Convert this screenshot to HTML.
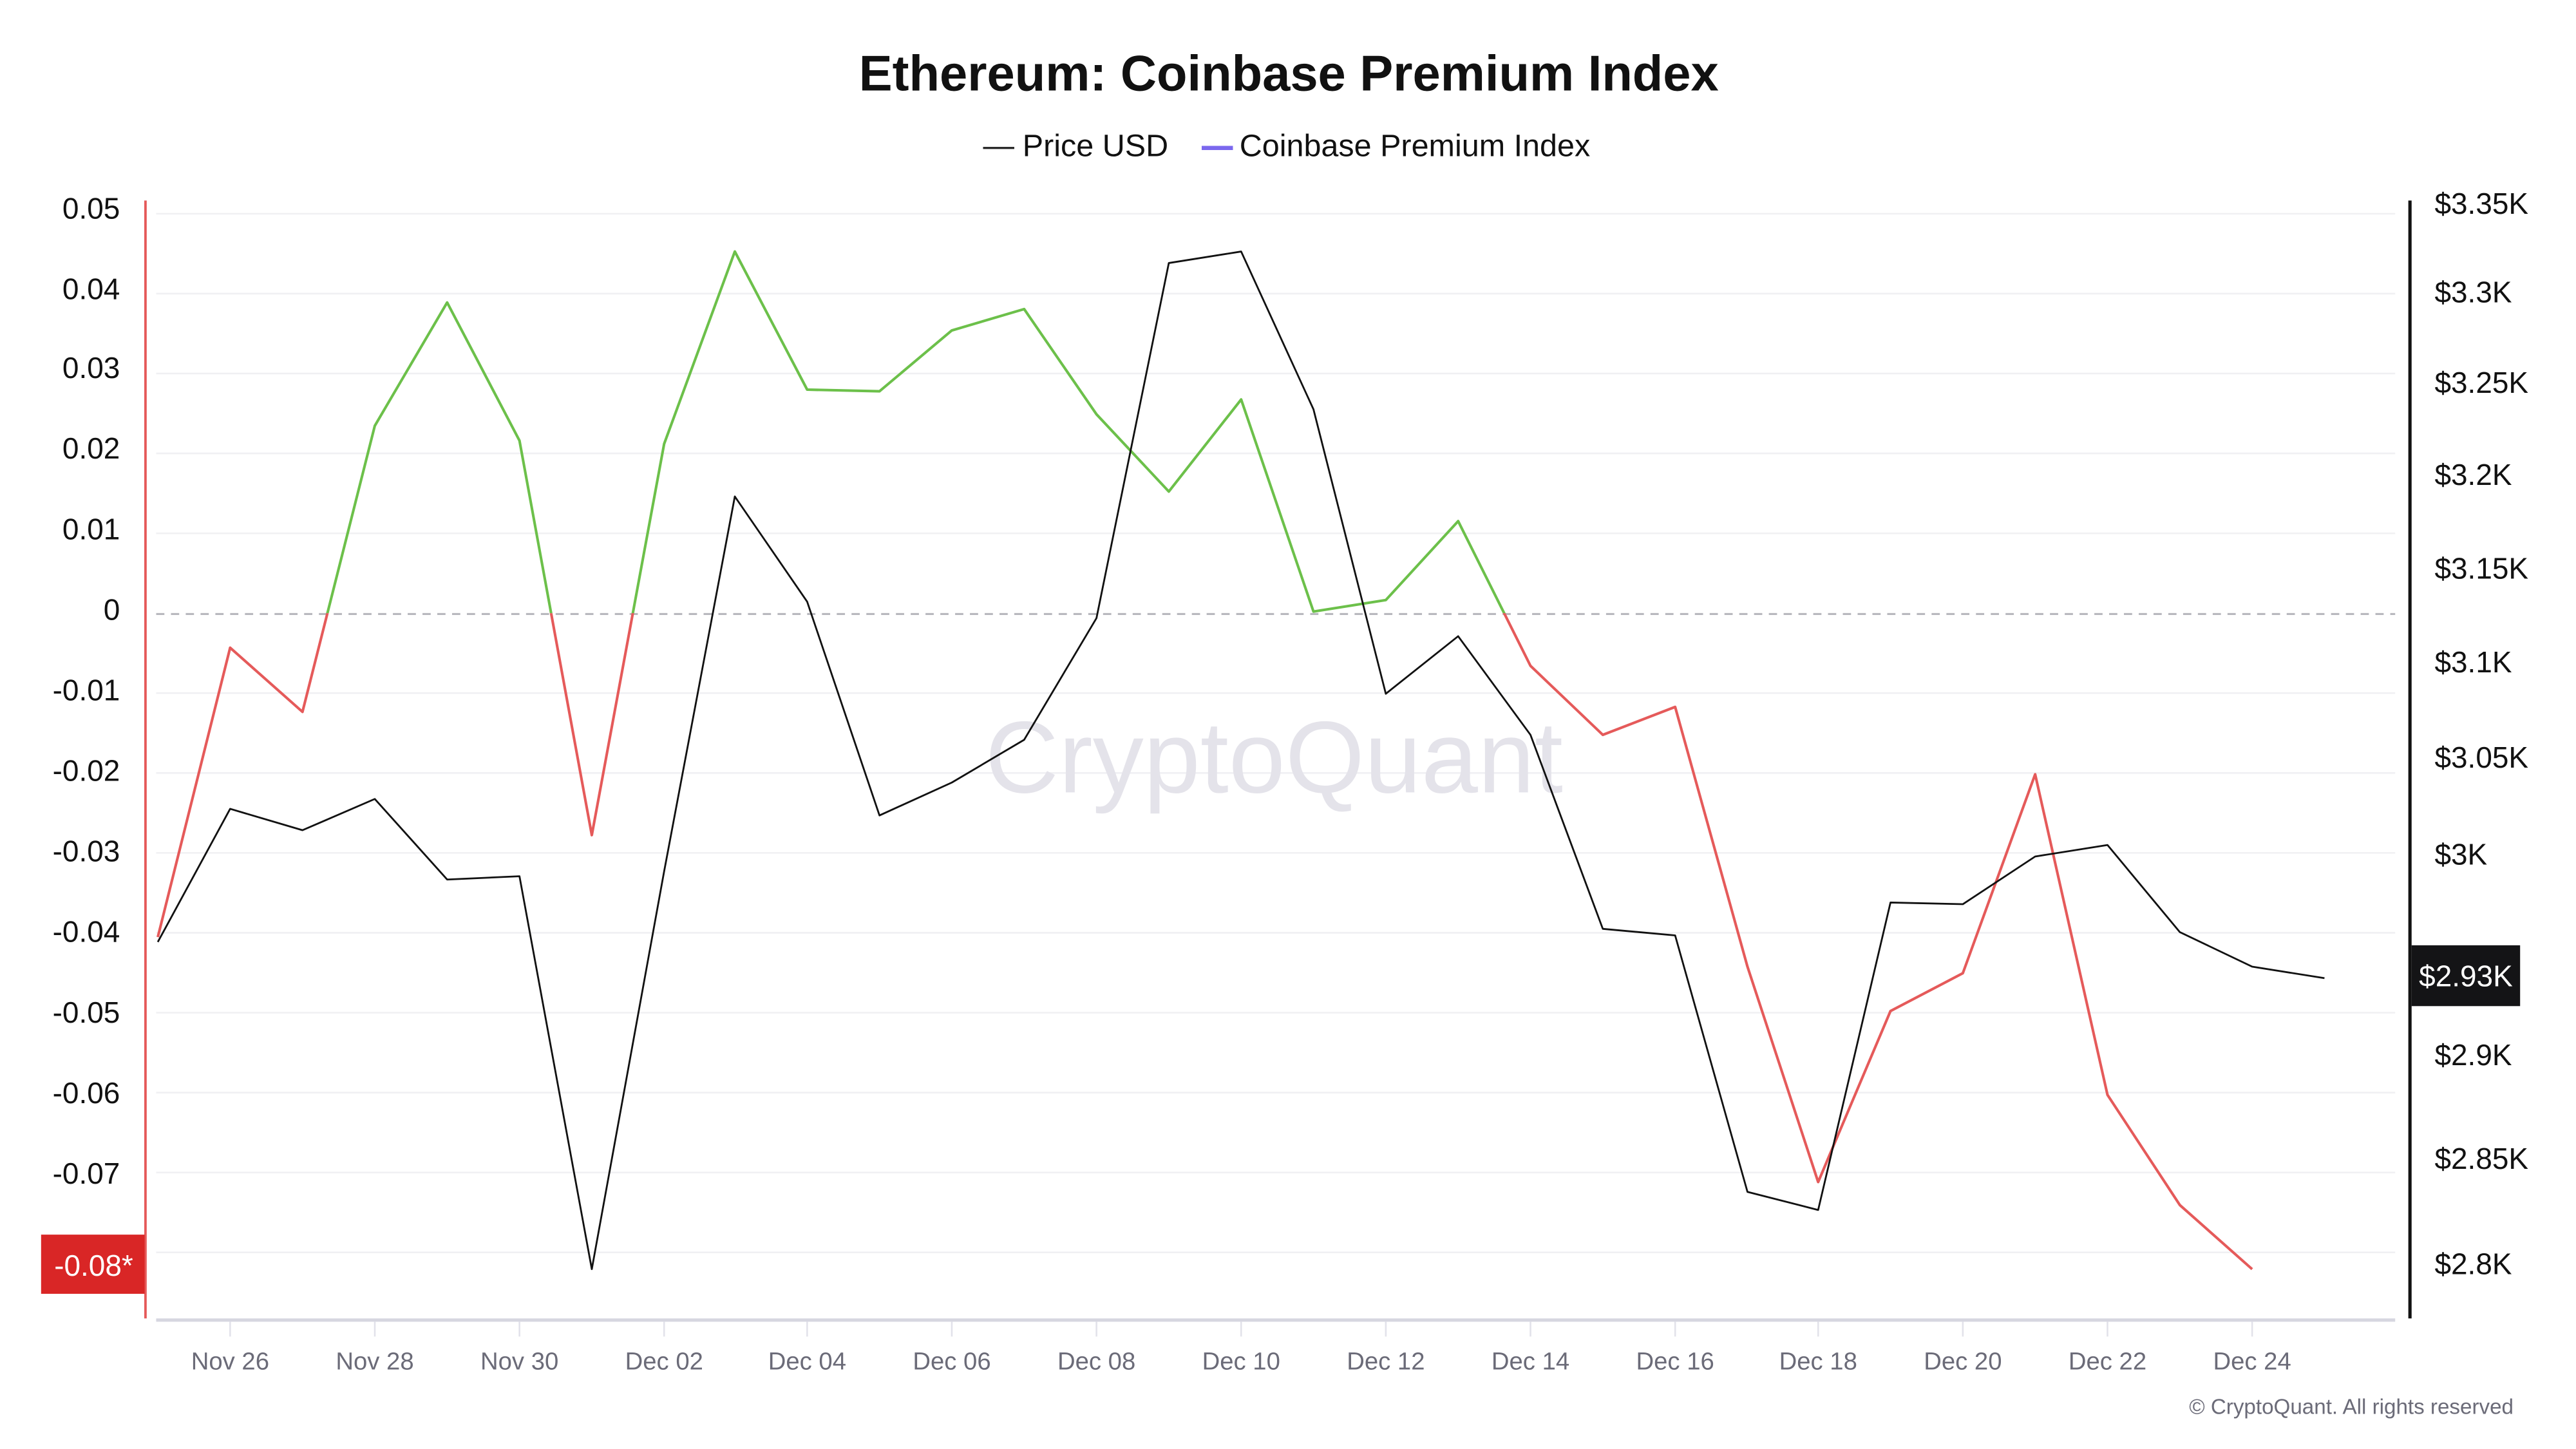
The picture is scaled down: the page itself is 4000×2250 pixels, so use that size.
<!DOCTYPE html>
<html><head><meta charset="utf-8"><style>
html,body{margin:0;padding:0;background:#fff;width:4000px;height:2250px;overflow:hidden}
svg{display:block}
text{font-family:"Liberation Sans","DejaVu Sans",sans-serif}
</style></head><body>
<svg width="4000" height="2250" viewBox="0 0 1567 881.4" preserveAspectRatio="none" xmlns="http://www.w3.org/2000/svg">
<defs>
<clipPath id="above"><rect x="0" y="0" width="1567" height="373"/></clipPath>
<clipPath id="below"><rect x="0" y="373" width="1567" height="600"/></clipPath>
</defs>
<rect width="1567" height="881.4" fill="#fff"/>
<text x="784" y="55" text-anchor="middle" font-size="30.5" font-weight="bold" fill="#111" textLength="523" lengthAdjust="spacingAndGlyphs">Ethereum: Coinbase Premium Index</text>
<line x1="598" y1="90" x2="617" y2="90" stroke="#222" stroke-width="1.3"/>
<text x="622" y="95" font-size="19" fill="#111">Price USD</text>
<line x1="731" y1="90" x2="750" y2="90" stroke="#7b68ee" stroke-width="2.5"/>
<text x="754" y="95" font-size="19" fill="#111">Coinbase Premium Index</text>
<g stroke="#f0f0f3" stroke-width="1">
<line x1="95" x2="1457" y1="130" y2="130"/><line x1="95" x2="1457" y1="178.6" y2="178.6"/>
<line x1="95" x2="1457" y1="227.2" y2="227.2"/><line x1="95" x2="1457" y1="275.8" y2="275.8"/>
<line x1="95" x2="1457" y1="324.4" y2="324.4"/><line x1="95" x2="1457" y1="421.6" y2="421.6"/>
<line x1="95" x2="1457" y1="470.2" y2="470.2"/><line x1="95" x2="1457" y1="518.8" y2="518.8"/>
<line x1="95" x2="1457" y1="567.4" y2="567.4"/><line x1="95" x2="1457" y1="616" y2="616"/>
<line x1="95" x2="1457" y1="664.6" y2="664.6"/><line x1="95" x2="1457" y1="713.2" y2="713.2"/>
<line x1="95" x2="1457" y1="761.8" y2="761.8"/>
</g>
<line x1="95" x2="1457" y1="373.5" y2="373.5" stroke="#b8b8be" stroke-width="1.2" stroke-dasharray="5,4"/>
<line x1="95" x2="1457" y1="803" y2="803" stroke="#d6d6e0" stroke-width="2"/>
<g stroke="#e2e2ea" stroke-width="1">
<line x1="140" x2="140" y1="804" y2="813"/><line x1="228" x2="228" y1="804" y2="813"/><line x1="316" x2="316" y1="804" y2="813"/><line x1="404" x2="404" y1="804" y2="813"/><line x1="491" x2="491" y1="804" y2="813"/><line x1="579" x2="579" y1="804" y2="813"/><line x1="667" x2="667" y1="804" y2="813"/><line x1="755" x2="755" y1="804" y2="813"/><line x1="843" x2="843" y1="804" y2="813"/><line x1="931" x2="931" y1="804" y2="813"/><line x1="1019" x2="1019" y1="804" y2="813"/><line x1="1106" x2="1106" y1="804" y2="813"/><line x1="1194" x2="1194" y1="804" y2="813"/><line x1="1282" x2="1282" y1="804" y2="813"/><line x1="1370" x2="1370" y1="804" y2="813"/>
</g>
<g font-size="15" fill="#6b6b78" text-anchor="middle">
<text x="140" y="833">Nov 26</text><text x="228" y="833">Nov 28</text><text x="316" y="833">Nov 30</text><text x="404" y="833">Dec 02</text><text x="491" y="833">Dec 04</text><text x="579" y="833">Dec 06</text><text x="667" y="833">Dec 08</text><text x="755" y="833">Dec 10</text><text x="843" y="833">Dec 12</text><text x="931" y="833">Dec 14</text><text x="1019" y="833">Dec 16</text><text x="1106" y="833">Dec 18</text><text x="1194" y="833">Dec 20</text><text x="1282" y="833">Dec 22</text><text x="1370" y="833">Dec 24</text>
</g>
<text x="775" y="482" text-anchor="middle" font-size="62" fill="#e4e3ea">CryptoQuant</text>
<line x1="88.5" y1="122" x2="88.5" y2="802" stroke="#e55a5a" stroke-width="1.5"/>
<g font-size="18" fill="#111" text-anchor="end">
<text x="73" y="133">0.05</text><text x="73" y="182">0.04</text><text x="73" y="230">0.03</text><text x="73" y="279">0.02</text><text x="73" y="328">0.01</text><text x="73" y="377">0</text><text x="73" y="426">-0.01</text><text x="73" y="475">-0.02</text><text x="73" y="524">-0.03</text><text x="73" y="573">-0.04</text><text x="73" y="622">-0.05</text><text x="73" y="671">-0.06</text><text x="73" y="720">-0.07</text>
</g>
<rect x="25" y="751" width="63" height="36" fill="#d92626"/>
<text x="57" y="776" text-anchor="middle" font-size="18" fill="#fff">-0.08*</text>
<line x1="1466" y1="122" x2="1466" y2="802" stroke="#111" stroke-width="2"/>
<g font-size="18" fill="#111">
<text x="1481" y="130">$3.35K</text><text x="1481" y="184">$3.3K</text><text x="1481" y="239">$3.25K</text><text x="1481" y="295">$3.2K</text><text x="1481" y="352">$3.15K</text><text x="1481" y="409">$3.1K</text><text x="1481" y="467">$3.05K</text><text x="1481" y="526">$3K</text><text x="1481" y="648">$2.9K</text><text x="1481" y="711">$2.85K</text><text x="1481" y="775">$2.8K</text>
</g>
<rect x="1467" y="575" width="66" height="37" fill="#141416"/>
<text x="1500" y="600" text-anchor="middle" font-size="18" fill="#fff">$2.93K</text>
<g fill="none" stroke-width="1.6" stroke-linejoin="round">
<polyline clip-path="url(#above)" stroke="#6cc04a" points="96,570 140,394 184,433 228,259 272,184 316,268 360,508 404,270 447,153 491,237 535,238 579,201 623,188 667,252 711,299 755,243 799,372 843,365 887,317 931,405 975,447 1019,430 1063,588 1106,719 1150,615 1194,592 1238,471 1282,666 1326,733 1370,772"/>
<polyline clip-path="url(#below)" stroke="#e55a5a" points="96,570 140,394 184,433 228,259 272,184 316,268 360,508 404,270 447,153 491,237 535,238 579,201 623,188 667,252 711,299 755,243 799,372 843,365 887,317 931,405 975,447 1019,430 1063,588 1106,719 1150,615 1194,592 1238,471 1282,666 1326,733 1370,772"/>
</g>
<polyline fill="none" stroke="#111" stroke-width="1.1" stroke-linejoin="round" points="96,573 140,492 184,505 228,486 272,535 316,533 360,772 404,530 447,302 491,366 535,496 579,476 623,450 667,376 711,160 755,153 799,249 843,422 887,387 931,447 975,565 1019,569 1063,725 1106,736 1150,549 1194,550 1238,521 1282,514 1326,567 1370,588 1414,595"/>
<text x="1529" y="860" text-anchor="end" font-size="13" fill="#6b6b78">© CryptoQuant. All rights reserved</text>
</svg>
</body></html>
